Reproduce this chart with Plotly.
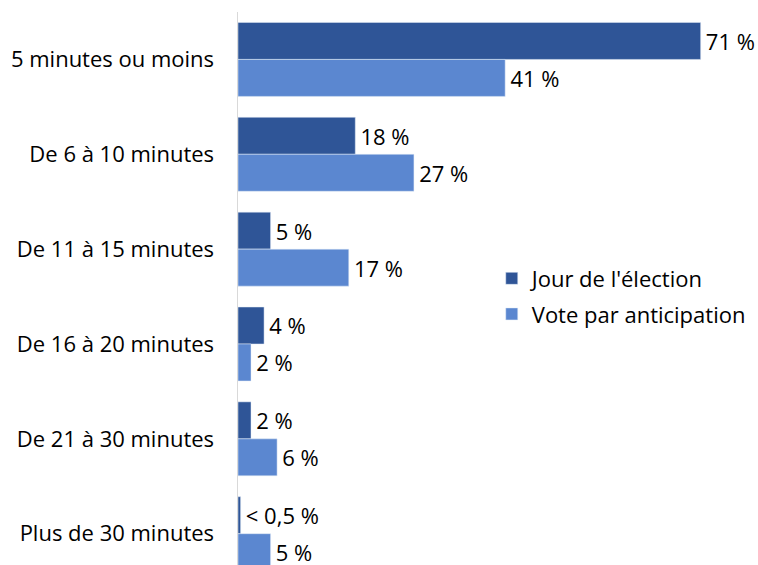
import plotly.graph_objects as go

categories = ["5 minutes ou moins", "De 6 à 10 minutes", "De 11 à 15 minutes",
              "De 16 à 20 minutes", "De 21 à 30 minutes", "Plus de 30 minutes"]
jour_values = [71, 18, 5, 4, 2, 0.4]
jour_labels = ["71 %", "18 %", "5 %", "4 %", "2 %", "< 0,5 %"]
anticip_values = [41, 27, 17, 2, 6, 5]
anticip_labels = ["41 %", "27 %", "17 %", "2 %", "6 %", "5 %"]

FONT = "Open Sans"
DARK = "#2F5597"
LIGHT = "#5B87D0"
PAD = "\u200a"

fig = go.Figure()
fig.add_trace(go.Bar(
    y=categories, x=jour_values, orientation="h", name="Jour de l'élection",
    legendgroup="a",
    marker=dict(color=DARK), text=[PAD + t for t in jour_labels],
    textposition="outside",
    textfont=dict(size=22, color="#000000", family=FONT), cliponaxis=False,
))
fig.add_trace(go.Bar(
    y=categories, x=anticip_values, orientation="h", name="Vote par anticipation",
    legendgroup="b",
    marker=dict(color=LIGHT), text=[PAD + t for t in anticip_labels],
    textposition="outside",
    textfont=dict(size=22, color="#000000", family=FONT), cliponaxis=False,
))

fig.update_layout(
    width=758, height=565,
    margin=dict(l=238, r=0, t=11.5, b=0),
    barmode="group", bargap=0.22, bargroupgap=0,
    plot_bgcolor="white", paper_bgcolor="white",
    font=dict(family=FONT, size=22, color="#000000"),
    showlegend=True,
    legend=dict(x=0.488, y=0.556, xanchor="left", yanchor="top",
                font=dict(size=22, family=FONT, color="#000000"),
                bgcolor="rgba(0,0,0,0)", itemwidth=30,
                traceorder="grouped", tracegroupgap=4),
    xaxis=dict(range=[0, 79.8], showticklabels=False, showgrid=False,
               zeroline=False, showline=False, fixedrange=True),
    yaxis=dict(categoryorder="array", categoryarray=categories,
               range=[5.33, -0.5], showgrid=False, zeroline=False,
               showline=True, linecolor="#d9d9d9", linewidth=1.5,
               ticks="", ticklabelstandoff=18, fixedrange=True,
               tickfont=dict(size=22, family=FONT, color="#000000")),
)

fig.write_html("out.html",
               config={"displayModeBar": False, "staticPlot": True},
               post_script="document.body.style.margin='0';"
                           "document.body.style.overflow='hidden';")
